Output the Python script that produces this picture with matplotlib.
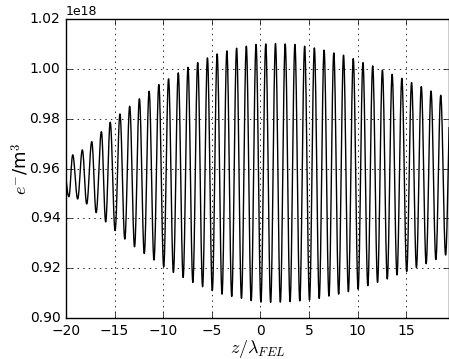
import matplotlib
matplotlib.use('Agg')
import matplotlib.pyplot as plt
import numpy as np

# cycle index (one cycle per lambda_FEL)
cycles = np.arange(-20, 20)

# trough values per cycle, in 1e18 e-/m^3
trough_vals = [0.9487, 0.9478, 0.9458, 0.9423, 0.9386, 0.9351, 0.9317, 0.9286,
               0.9259, 0.9233, 0.9206, 0.9183, 0.9163, 0.9143, 0.9126, 0.9110,
               0.9096, 0.9087, 0.9079, 0.9070, 0.9064, 0.9063, 0.9064, 0.9066,
               0.9069, 0.9072, 0.9079, 0.9088, 0.9096, 0.9106, 0.9116, 0.9130,
               0.9143, 0.9157, 0.9173, 0.9187, 0.9203, 0.9218, 0.9235, 0.9253]

# peak values per cycle
peak_vals = [0.9655, 0.9675, 0.9708, 0.9748, 0.9786, 0.9819, 0.9850, 0.9880,
             0.9910, 0.9937, 0.9960, 0.9984, 1.0006, 1.0025, 1.0044, 1.0060,
             1.0072, 1.0083, 1.0091, 1.0098, 1.0100, 1.0102, 1.0100, 1.0098,
             1.0091, 1.0084, 1.0075, 1.0064, 1.0055, 1.0041, 1.0025, 1.0012,
             0.9995, 0.9978, 0.9962, 0.9945, 0.9929, 0.9911, 0.9894, 0.9877]

# positions of the extrema (phase drifts a bit in the first cycles)
trough_z = list(cycles + 0.05)
trough_z[:5] = [-19.70, -18.80, -17.87, -16.90, -15.92]
peak_z = list(cycles + 0.55)
peak_z[:4] = [-19.31, -18.32, -17.35, -16.36]

# the peak just before the window starts
pre_peak = (-20.3, 0.963)

xticks = [-20, -15, -10, -5, 0, 5, 10, 15]
yticks = [0.90, 0.92, 0.94, 0.96, 0.98, 1.00, 1.02]


def build_curve():
    ez = [pre_peak[0]]
    ev = [pre_peak[1]]
    for i in range(len(cycles)):
        ez += [trough_z[i], peak_z[i]]
        ev += [trough_vals[i], peak_vals[i]]
    zs, vs = [], []
    for i in range(len(ez) - 1):
        s = np.linspace(0, 1, 25, endpoint=False)
        zs.append(ez[i] + (ez[i + 1] - ez[i]) * s)
        vs.append(ev[i] + (ev[i + 1] - ev[i]) * (1 - np.cos(np.pi * s)) / 2)
    return np.concatenate(zs), np.concatenate(vs) * 1e18


plt.style.use('classic')
plt.rcParams['mathtext.fontset'] = 'cm'
plt.rcParams['font.family'] = 'DejaVu Sans'

fig = plt.figure(figsize=(4.49, 3.59), dpi=100, facecolor='white')
ax = fig.add_axes([0.147, 0.114, 0.853, 0.833])

z, n = build_curve()
ax.plot(z, n, color='black', lw=1.0)

ax.set_xlim(-20, 19.4)
ax.set_ylim(0.90e18, 1.02e18)
ax.set_xticks(xticks)
ax.set_yticks([v * 1e18 for v in yticks])
ax.tick_params(labelsize=10)
ax.yaxis.get_offset_text().set_fontsize(9)
ax.grid(True, color='black', linestyle=':', linewidth=0.6)

ax.set_xlabel(r'$z/\lambda_{FEL}$', fontsize=13, labelpad=0)
ax.set_ylabel(r'$e^{-}$/m$^3$', fontsize=13, labelpad=-1)

fig.savefig('out.png', dpi=100, facecolor='white')
